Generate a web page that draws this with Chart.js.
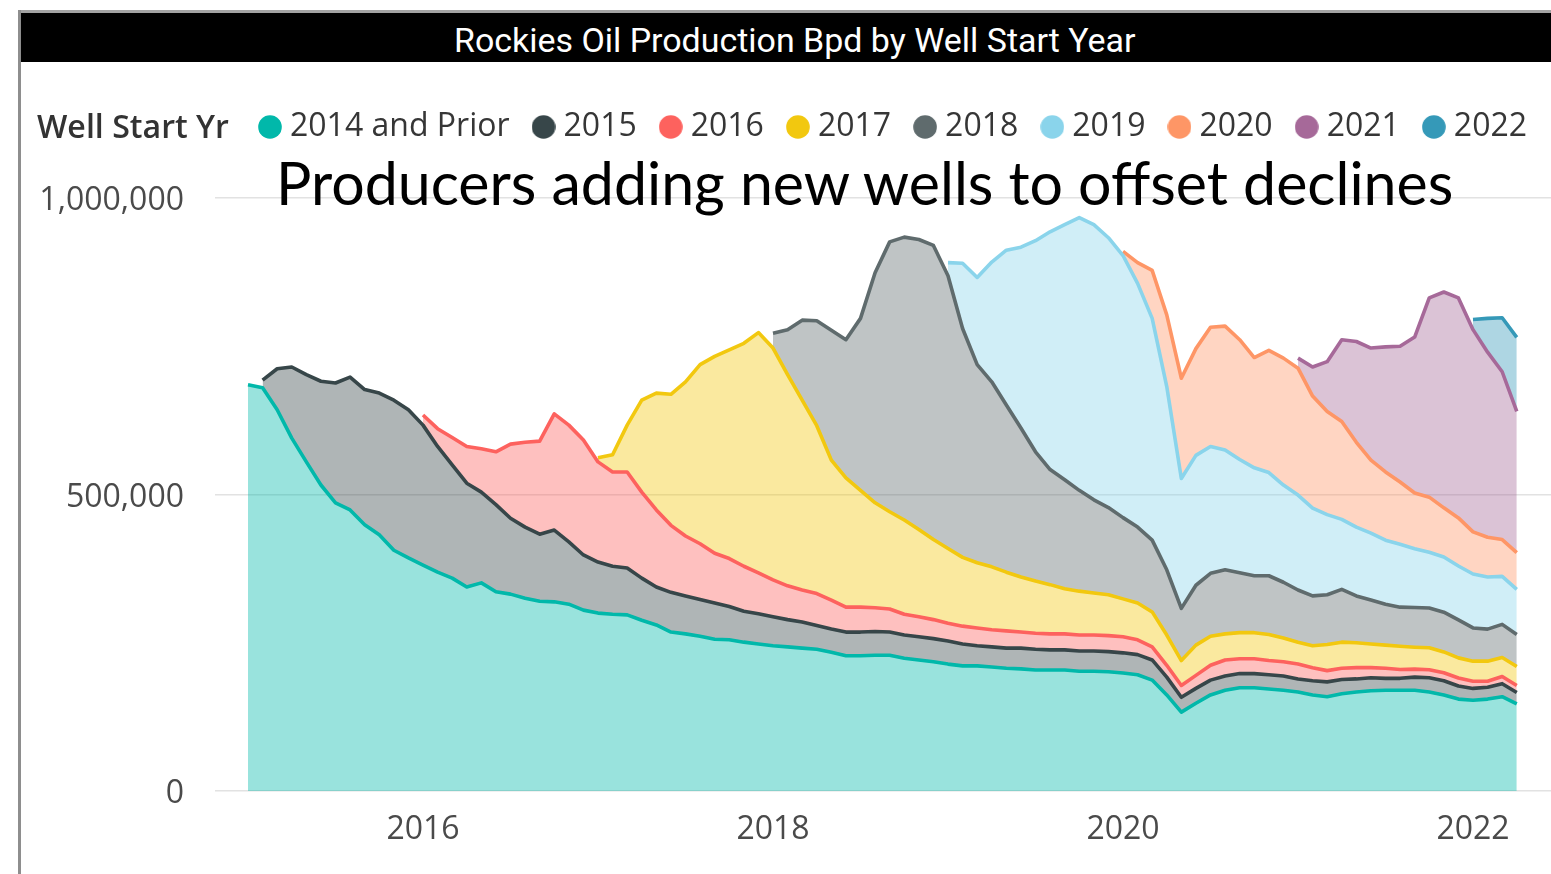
<!DOCTYPE html>
<html>
<head>
<meta charset="utf-8">
<script src="https://cdn.jsdelivr.net/npm/chart.js@4.4.1/dist/chart.umd.min.js"></script>
<style>
html, body { margin:0; padding:0; background:#fff; }
body { width:1551px; height:874px; overflow:hidden; position:relative; }
#chart { position:absolute; left:0; top:0; width:1556px; height:874px; z-index:1; }
.frameTop { position:absolute; left:18px; top:10px; width:1533px; height:3px; background:#a3a3a3; z-index:2; }
.frameLeft { position:absolute; left:18px; top:10px; width:3px; height:864px; background:#8e8e8e; z-index:2; }
.header { position:absolute; left:21px; top:13px; width:1530px; height:49px; background:#000; z-index:2; }
.txt { position:absolute; white-space:nowrap; margin:0; padding:0; z-index:3; }
#title { color:#fff; }
#legendTitle { color:#333; }
#note { color:#000; }
</style>
</head>
<body>
<div class="frameTop"></div>
<div class="frameLeft"></div>
<div class="header"></div>
<canvas id="chart" width="1556" height="874"></canvas>
<div class="txt" id="title">Rockies Oil Production Bpd by Well Start Year</div>
<div class="txt" id="legendTitle">Well Start Yr</div>
<div class="txt" id="note">Producers adding new wells to offset declines</div>
<script>
// ---------- DATA ----------
const months = [
  '2015-01','2015-02','2015-03','2015-04','2015-05','2015-06','2015-07','2015-08','2015-09','2015-10','2015-11','2015-12',
  '2016-01','2016-02','2016-03','2016-04','2016-05','2016-06','2016-07','2016-08','2016-09','2016-10','2016-11','2016-12',
  '2017-01','2017-02','2017-03','2017-04','2017-05','2017-06','2017-07','2017-08','2017-09','2017-10','2017-11','2017-12',
  '2018-01','2018-02','2018-03','2018-04','2018-05','2018-06','2018-07','2018-08','2018-09','2018-10','2018-11','2018-12',
  '2019-01','2019-02','2019-03','2019-04','2019-05','2019-06','2019-07','2019-08','2019-09','2019-10','2019-11','2019-12',
  '2020-01','2020-02','2020-03','2020-04','2020-05','2020-06','2020-07','2020-08','2020-09','2020-10','2020-11','2020-12',
  '2021-01','2021-02','2021-03','2021-04','2021-05','2021-06','2021-07','2021-08','2021-09','2021-10','2021-11','2021-12',
  '2022-01','2022-02','2022-03','2022-04'
];

const seriesNames = ['2014 and Prior','2015','2016','2017','2018','2019','2020','2021','2022'];
const seriesStart = ['2015-01','2015-02','2016-01','2017-01','2018-01','2019-01','2020-01','2021-01','2022-01'];

const v2014 = [
  685000,680000,643000,595000,555000,516000,486000,474000,449000,432000,406000,393000,
  381000,369000,359000,344000,351000,336000,332000,325000,320000,319000,315000,305000,
  300000,298000,297000,288000,280000,268000,265000,261000,256000,255000,251000,248000,
  245000,243000,241000,239000,234000,228000,228000,229000,229000,224000,221000,218000,
  214000,211000,211000,209000,207000,206000,204000,204000,204000,202000,202000,201000,
  199000,196000,187000,162000,133000,148000,162000,170000,174000,174000,172000,170000,
  167000,162000,159000,164000,167000,169000,170000,170000,170000,167000,162000,155000,
  153000,155000,159000,147000
];
const v2015 = [
  13000,69000,120000,147000,175000,202000,224000,228000,239000,253000,250000,
  236000,212000,191000,175000,153000,147000,128000,120000,113000,121000,105000,93000,
  86000,81000,79000,71000,64000,67000,64000,62000,61000,56000,52000,51000,
  49000,46000,44000,40000,39000,40000,40000,40000,39000,39000,39000,39000,
  39000,37000,34000,34000,34000,35000,35000,34000,34000,34000,34000,34000,
  34000,34000,34000,30000,25000,25000,25000,24000,24000,24000,24000,24000,
  22000,24000,25000,24000,22000,22000,20000,20000,22000,24000,24000,22000,
  20000,20000,22000,19000
];
const v2016 = [
  17000,30000,46000,62000,73000,89000,125000,143000,157000,196000,197000,194000,
  169000,159000,162000,145000,130000,113000,101000,94000,84000,81000,76000,69000,
  62000,57000,54000,54000,49000,42000,42000,40000,39000,35000,34000,32000,
  30000,30000,30000,29000,29000,27000,27000,27000,27000,27000,27000,27000,
  27000,25000,22000,20000,20000,22000,25000,27000,25000,25000,24000,24000,
  25000,22000,19000,19000,19000,17000,17000,15000,13500,13500,13500,13500,
  12000,10000,12000,12000
];
const v2017 = [
  7000,29000,79000,155000,197000,221000,260000,302000,332000,352000,376000,405000,
  391000,356000,320000,283000,236000,218000,197000,177000,164000,159000,147000,135000,
  126000,116000,110000,106000,99000,93000,88000,83000,76000,74000,71000,69000,
  64000,62000,59000,51000,42000,51000,49000,44000,44000,44000,44000,40000,
  37000,37000,44000,44000,42000,40000,39000,39000,37000,37000,35000,34000,
  34000,34000,32000,32000
];
const v2018 = [
  25000,76000,135000,177000,219000,233000,290000,388000,455000,477000,489000,496000,
  460000,386000,334000,312000,282000,251000,218000,194000,184000,170000,157000,147000,
  137000,128000,121000,110000,88000,101000,106000,108000,101000,96000,99000,94000,
  88000,84000,84000,89000,79000,74000,69000,66000,67000,67000,67000,64000,
  56000,54000,56000,54000
];
const v2019 = [
  22000,110000,147000,202000,261000,305000,356000,401000,430000,460000,464000,455000,
  442000,411000,374000,309000,219000,219000,214000,202000,191000,182000,174000,164000,
  160000,148000,135000,118000,116000,113000,108000,106000,99000,94000,93000,91000,
  91000,88000,81000,76000
];
const v2020 = [
  7000,35000,81000,121000,169000,180000,201000,209000,202000,186000,206000,214000,
  214000,189000,174000,165000,143000,123000,115000,105000,94000,93000,83000,81000,
  71000,67000,62000,62000
];
const v2021 = [
  17000,49000,84000,138000,170000,189000,211000,229000,263000,336000,364000,371000,
  341000,312000,283000,238000
];
const v2022 = [17000,57000,91000,125000];

const yTicks = [0, 500000, 1000000];
const xTickMonths = ['2016-01','2018-01','2020-01','2022-01'];
const xTickLabels = ['2016','2018','2020','2022'];

// ---------- STYLE ----------
const lineColors = ['#01B8AA','#374649','#FD625E','#F2C80F','#5F6B6D','#8AD4EB','#FE9666','#A66999','#3599B8'];
const seriesValues = [v2014, v2015, v2016, v2017, v2018, v2019, v2020, v2021, v2022];

function rgba(hex, a) {
  const n = parseInt(hex.slice(1), 16);
  return `rgba(${(n >> 16) & 255},${(n >> 8) & 255},${n & 255},${a})`;
}
function dot(color) {
  const c = document.createElement('canvas');
  c.width = 24; c.height = 24;
  const g = c.getContext('2d');
  g.fillStyle = color;
  g.beginPath(); g.arc(12, 12, 11.8, 0, Math.PI * 2); g.fill();
  return c;
}
const dots = lineColors.map(dot);

const datasets = seriesValues.map((vals, k) => {
  const s = months.indexOf(seriesStart[k]);
  return {
    label: seriesNames[k],
    data: vals.map((v, j) => ({ x: s + j, y: v })),
    borderColor: lineColors[k],
    backgroundColor: rgba(lineColors[k], 0.4),
    borderWidth: 3.6,
    fill: k === 0 ? 'origin' : '-1',
    pointRadius: 0,
    pointHoverRadius: 0,
    tension: 0,
    borderJoinStyle: 'round'
  };
});

Chart.defaults.font.family = "'Open Sans', sans-serif";

const legendShift = {
  id: 'legendShift',
  afterLayout(chart) {
    chart.legend.left = 236;
    chart.legend.right = 1700;
  }
};

new Chart(document.getElementById('chart'), {
  type: 'line',
  data: { datasets },
  options: {
    responsive: false,
    animation: false,
    devicePixelRatio: 1,
    events: [],
    layout: { padding: { top: 81, left: 0, right: 0, bottom: 0 } },
    plugins: {
      tooltip: { enabled: false },
      title: { display: false },
      legend: {
        display: true,
        position: 'top',
        align: 'start',
        labels: {
          usePointStyle: true,
          pointStyleWidth: 8,
          padding: 30,
          color: '#363636',
          font: { size: 32 },
          generateLabels(chart) {
            const items = Chart.defaults.plugins.legend.labels.generateLabels(chart);
            return items.map((it, i) => Object.assign(it, { pointStyle: dots[i] }));
          }
        }
      }
    },
    scales: {
      x: {
        type: 'linear',
        min: -2.263,
        max: 89.691,
        afterBuildTicks: s => { s.ticks = xTickMonths.map(m => ({ value: months.indexOf(m) })); },
        afterFit: s => { s.height = 83; },
        grid: { display: false },
        border: { display: false },
        ticks: {
          autoSkip: false, maxRotation: 0, padding: 12,
          color: '#4a4a4a', font: { size: 32 },
          callback: (v, i) => xTickLabels[i]
        }
      },
      y: {
        stacked: true,
        min: 0,
        max: 1075885,
        afterBuildTicks: s => { s.ticks = yTicks.map(v => ({ value: v })); },
        afterFit: s => { s.width = 215; },
        grid: { color: '#e2e2e2', lineWidth: 1.5, drawTicks: false },
        border: { display: false },
        ticks: {
          padding: 31, labelOffset: 3, color: '#4a4a4a', font: { size: 32 },
          callback: v => new Intl.NumberFormat('en-US').format(v)
        }
      }
    }
  },
  plugins: [legendShift]
});

// ---------- HTML TEXT PLACEMENT ----------
function place(id, family, weight, targetWidth, left, baseline) {
  const el = document.getElementById(id);
  const ctx = document.createElement('canvas').getContext('2d');
  ctx.font = `${weight} 100px "${family}"`;
  const w100 = ctx.measureText(el.textContent).width;
  const fs = 100 * targetWidth / w100;
  ctx.font = `${weight} ${fs}px "${family}"`;
  const m = ctx.measureText(el.textContent);
  const A = m.fontBoundingBoxAscent, D = m.fontBoundingBoxDescent;
  el.style.fontFamily = `"${family}"`;
  el.style.fontWeight = weight;
  el.style.fontSize = fs + 'px';
  el.style.lineHeight = (A + D) + 'px';
  el.style.top = (baseline - A) + 'px';
  el.style.left = left + 'px';
}
function placeAll() {
  place('title', 'Roboto', 400, 682, 454, 52);
  place('legendTitle', 'Open Sans', 600, 192, 37, 138);
  place('note', 'Lato', 400, 1180, 276, 205);
}
placeAll();
if (document.fonts && document.fonts.ready) document.fonts.ready.then(placeAll);
</script>
</body>
</html>
